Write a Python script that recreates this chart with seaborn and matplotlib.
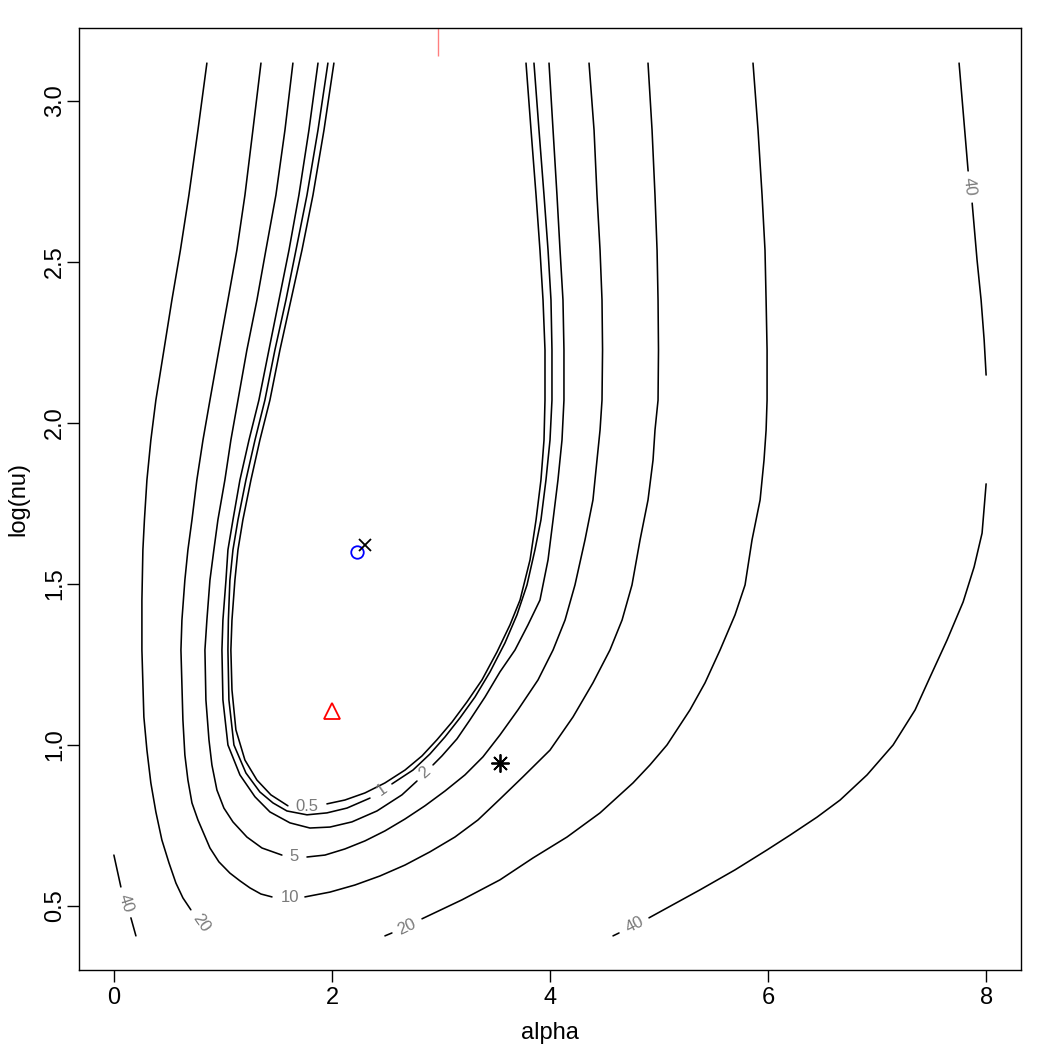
import pandas as pd
import seaborn as sns
import matplotlib
matplotlib.use("Agg")
import matplotlib.pyplot as plt

# contour lines as (alpha, log(nu)) points.
# a level is split into pieces where the line is broken for its label
level_05 = [
    [(2.018, 3.118), (1.927, 2.910), (1.826, 2.708), (1.725, 2.537), (1.624, 2.382),
     (1.523, 2.227), (1.431, 2.071), (1.339, 1.947), (1.257, 1.823), (1.183, 1.699),
     (1.138, 1.606), (1.110, 1.512), (1.083, 1.388), (1.073, 1.295), (1.083, 1.171),
     (1.119, 1.047), (1.202, 0.953), (1.312, 0.891), (1.440, 0.845), (1.596, 0.811)],
    [(1.954, 0.817), (2.119, 0.829), (2.303, 0.851), (2.486, 0.882), (2.670, 0.922),
     (2.826, 0.966), (2.963, 1.016), (3.101, 1.071), (3.239, 1.134), (3.376, 1.202),
     (3.514, 1.289), (3.633, 1.373), (3.725, 1.450), (3.817, 1.575), (3.872, 1.699),
     (3.917, 1.823), (3.945, 1.947), (3.954, 2.071), (3.954, 2.227), (3.936, 2.382),
     (3.908, 2.537), (3.872, 2.708), (3.826, 2.910), (3.780, 3.118)],
]
level_1 = [
    [(1.963, 3.118), (1.872, 2.910), (1.771, 2.708), (1.670, 2.537), (1.578, 2.382),
     (1.477, 2.227), (1.385, 2.071), (1.294, 1.947), (1.211, 1.823), (1.138, 1.699),
     (1.092, 1.606), (1.064, 1.512), (1.050, 1.388), (1.046, 1.295), (1.055, 1.140),
     (1.101, 1.000), (1.211, 0.913), (1.339, 0.854), (1.459, 0.820), (1.587, 0.795),
     (1.771, 0.783), (1.954, 0.789), (2.138, 0.804), (2.349, 0.835)],
    [(2.550, 0.879), (2.743, 0.922), (2.899, 0.972), (3.037, 1.025), (3.174, 1.084),
     (3.312, 1.149), (3.450, 1.227), (3.587, 1.317), (3.697, 1.404), (3.789, 1.497),
     (3.862, 1.606), (3.917, 1.699), (3.963, 1.823), (4.000, 1.947), (4.018, 2.071),
     (4.018, 2.227), (4.009, 2.382), (3.982, 2.537), (3.945, 2.708), (3.899, 2.910),
     (3.853, 3.118)],
]
level_2 = [
    [(1.872, 3.118), (1.789, 2.910), (1.697, 2.708), (1.606, 2.537), (1.514, 2.382),
     (1.422, 2.227), (1.330, 2.071), (1.239, 1.947), (1.156, 1.823), (1.092, 1.699),
     (1.046, 1.606), (1.028, 1.512), (1.000, 1.388), (0.991, 1.295), (1.000, 1.140),
     (1.046, 1.000), (1.156, 0.907), (1.294, 0.839), (1.431, 0.792), (1.615, 0.758),
     (1.798, 0.742), (1.982, 0.745), (2.183, 0.761), (2.413, 0.795), (2.642, 0.845),
     (2.780, 0.888)],
    [(2.927, 0.938), (3.009, 0.966), (3.147, 1.019), (3.266, 1.078), (3.404, 1.149),
     (3.541, 1.227), (3.679, 1.295), (3.798, 1.373), (3.908, 1.450), (3.982, 1.575),
     (4.028, 1.699), (4.073, 1.823), (4.110, 1.947), (4.128, 2.071), (4.128, 2.227),
     (4.119, 2.382), (4.092, 2.537), (4.064, 2.708), (4.028, 2.910), (3.991, 3.118)],
]
level_5 = [
    [(1.642, 3.118), (1.569, 2.910), (1.486, 2.708), (1.394, 2.537), (1.312, 2.382),
     (1.220, 2.227), (1.138, 2.071), (1.073, 1.947), (1.018, 1.823), (0.954, 1.699),
     (0.917, 1.606), (0.881, 1.512), (0.853, 1.388), (0.835, 1.295), (0.844, 1.140),
     (0.872, 1.016), (0.899, 0.938), (0.945, 0.860), (1.009, 0.804), (1.092, 0.761),
     (1.220, 0.714), (1.358, 0.680), (1.541, 0.658)],
    [(1.771, 0.652), (1.936, 0.658), (2.119, 0.677), (2.303, 0.702), (2.486, 0.733),
     (2.670, 0.770), (2.853, 0.811), (3.037, 0.857), (3.220, 0.907), (3.385, 0.963),
     (3.541, 1.031), (3.706, 1.109), (3.890, 1.202), (4.028, 1.295), (4.138, 1.388),
     (4.229, 1.497), (4.321, 1.637), (4.394, 1.761), (4.431, 1.885), (4.459, 1.978),
     (4.477, 2.071), (4.482, 2.227), (4.477, 2.382), (4.459, 2.537), (4.431, 2.708),
     (4.404, 2.910), (4.358, 3.118)],
]
level_10 = [
    [(1.349, 3.118), (1.275, 2.910), (1.202, 2.708), (1.128, 2.537), (1.046, 2.382),
     (0.963, 2.227), (0.881, 2.071), (0.817, 1.947), (0.761, 1.823), (0.716, 1.699),
     (0.679, 1.606), (0.651, 1.512), (0.624, 1.388), (0.615, 1.295), (0.633, 1.078),
     (0.651, 0.969), (0.679, 0.891), (0.716, 0.820), (0.771, 0.767), (0.881, 0.680),
     (0.963, 0.637), (1.064, 0.602), (1.156, 0.578), (1.248, 0.556), (1.349, 0.537),
     (1.450, 0.528)],
    [(1.752, 0.528), (1.982, 0.543), (2.211, 0.565), (2.440, 0.593), (2.670, 0.627),
     (2.899, 0.668), (3.128, 0.714), (3.339, 0.767), (3.541, 0.832), (3.752, 0.901),
     (4.000, 0.984), (4.211, 1.087), (4.394, 1.193), (4.550, 1.295), (4.661, 1.388),
     (4.752, 1.497), (4.826, 1.637), (4.899, 1.761), (4.945, 1.885), (4.963, 1.978),
     (4.991, 2.071), (4.995, 2.227), (4.991, 2.382), (4.982, 2.537), (4.963, 2.708),
     (4.936, 2.910), (4.899, 3.118)],
]
level_20 = [
    [(0.853, 3.118), (0.771, 2.910), (0.688, 2.708), (0.610, 2.537), (0.532, 2.382),
     (0.459, 2.227), (0.385, 2.071), (0.339, 1.947), (0.303, 1.823), (0.280, 1.699),
     (0.266, 1.606), (0.257, 1.450), (0.257, 1.295), (0.275, 1.087), (0.303, 0.984),
     (0.339, 0.882), (0.385, 0.792), (0.440, 0.705), (0.505, 0.634), (0.569, 0.571),
     (0.633, 0.525), (0.706, 0.488)],
    [(2.486, 0.407), (2.550, 0.416)],
    [(2.826, 0.460), (3.193, 0.519), (3.541, 0.581), (3.844, 0.649), (4.156, 0.714),
     (4.459, 0.789), (4.761, 0.882), (4.917, 0.938), (5.073, 1.000), (5.284, 1.109),
     (5.422, 1.193), (5.560, 1.295), (5.697, 1.404), (5.789, 1.497), (5.853, 1.637),
     (5.927, 1.761), (5.963, 1.885), (5.982, 1.978), (5.991, 2.071), (5.991, 2.227),
     (5.982, 2.382), (5.972, 2.537), (5.945, 2.708), (5.908, 2.910), (5.862, 3.118)],
]
level_40 = [
    [(0.000, 0.658), (0.064, 0.559)],
    [(0.156, 0.463), (0.202, 0.407)],
    [(7.752, 3.118), (7.835, 2.783)],
    [(7.872, 2.683), (7.917, 2.506), (7.954, 2.382), (7.982, 2.258), (8.000, 2.149)],
    [(8.000, 1.811), (7.963, 1.658), (7.890, 1.553), (7.789, 1.444), (7.642, 1.326),
     (7.486, 1.211), (7.349, 1.109), (7.147, 1.000), (6.908, 0.907), (6.661, 0.829),
     (6.450, 0.776), (6.202, 0.720), (5.991, 0.674), (5.697, 0.612), (5.376, 0.550),
     (4.908, 0.463)],
    [(4.633, 0.416), (4.578, 0.407)],
]

# contour labels
lab_text = ["0.5", "1", "2", "5", "10", "20", "20", "40", "40", "40"]
lab_alpha = [1.771, 2.459, 2.853, 1.651, 1.615, 0.798, 2.688, 0.110, 4.780, 7.844]
lab_lognu = [0.809, 0.860, 0.913, 0.652, 0.525, 0.447, 0.435, 0.509, 0.441, 2.733]
lab_angle = [0, 35, 42, 0, 0, -55, 25, -72, 27, -83]

# points
circ_alpha, circ_lognu = [2.23], [1.600]
cross_alpha, cross_lognu = [2.30], [1.621]
tri_alpha, tri_lognu = [2.00], [1.106]
star_alpha, star_lognu = [3.54], [0.944]
rug_alpha = [2.97]

rows = []
for name, pieces in [("0.5", level_05), ("1", level_1), ("2", level_2), ("5", level_5),
                     ("10", level_10), ("20", level_20), ("40", level_40)]:
    for i, piece in enumerate(pieces):
        for a, l in piece:
            rows.append((name + "_" + str(i), a, l))
df = pd.DataFrame(rows, columns=["piece", "alpha", "lognu"])

sns.set_style("ticks")
plt.rcParams['font.family'] = ['Liberation Sans', 'DejaVu Sans']
plt.rcParams['text.color'] = 'black'
plt.rcParams['axes.labelcolor'] = 'black'

fig = plt.figure(figsize=(10.5, 10.5), dpi=100)
ax = fig.add_axes([79 / 1050, 1 - 970 / 1050, 942 / 1050, 942 / 1050])

sns.lineplot(data=df, x="alpha", y="lognu", units="piece", estimator=None, sort=False,
             color="black", linewidth=1.15, legend=False, ax=ax)

for t, a, l, r in zip(lab_text, lab_alpha, lab_lognu, lab_angle):
    ax.text(a, l, t, rotation=r, rotation_mode="anchor", ha="center", va="center",
            fontsize=12, color="#7a7a7a")

ax.plot(circ_alpha, circ_lognu, "o", ms=9, mfc="none", mec="blue", mew=1.3)
ax.plot(cross_alpha, cross_lognu, "x", ms=9, color="black", mew=1.3)
ax.plot(tri_alpha, tri_lognu, "^", ms=11, mfc="none", mec="red", mew=1.3)
ax.plot(star_alpha, star_lognu, marker=(8, 2, 0), ms=13, color="black", mew=1.3,
        linestyle="none")
ax.vlines(rug_alpha, 0.97, 1.0, transform=ax.get_xaxis_transform(),
          color="red", alpha=0.5, linewidth=1)

ax.set_xlim(-0.32, 8.32)
ax.set_ylim(0.301, 3.227)
ax.set_xticks([0, 2, 4, 6, 8])
ax.set_yticks([0.5, 1.0, 1.5, 2.0, 2.5, 3.0])
ax.set_yticklabels(["0.5", "1.0", "1.5", "2.0", "2.5", "3.0"], rotation=90, va="center")
ax.tick_params(length=8.5, width=1, color="black", labelsize=17, labelcolor="black")
ax.tick_params(axis="x", pad=4)
ax.tick_params(axis="y", pad=1)
for s in ax.spines.values():
    s.set_color("black")
    s.set_linewidth(1)

ax.set_xlabel("alpha", fontsize=17, va="center")
ax.set_ylabel("log(nu)", fontsize=17, va="center")
ax.xaxis.set_label_coords(0.5, -63 / 942)
ax.yaxis.set_label_coords(-61 / 942, 0.5)

fig.savefig("out.png", dpi=100)
